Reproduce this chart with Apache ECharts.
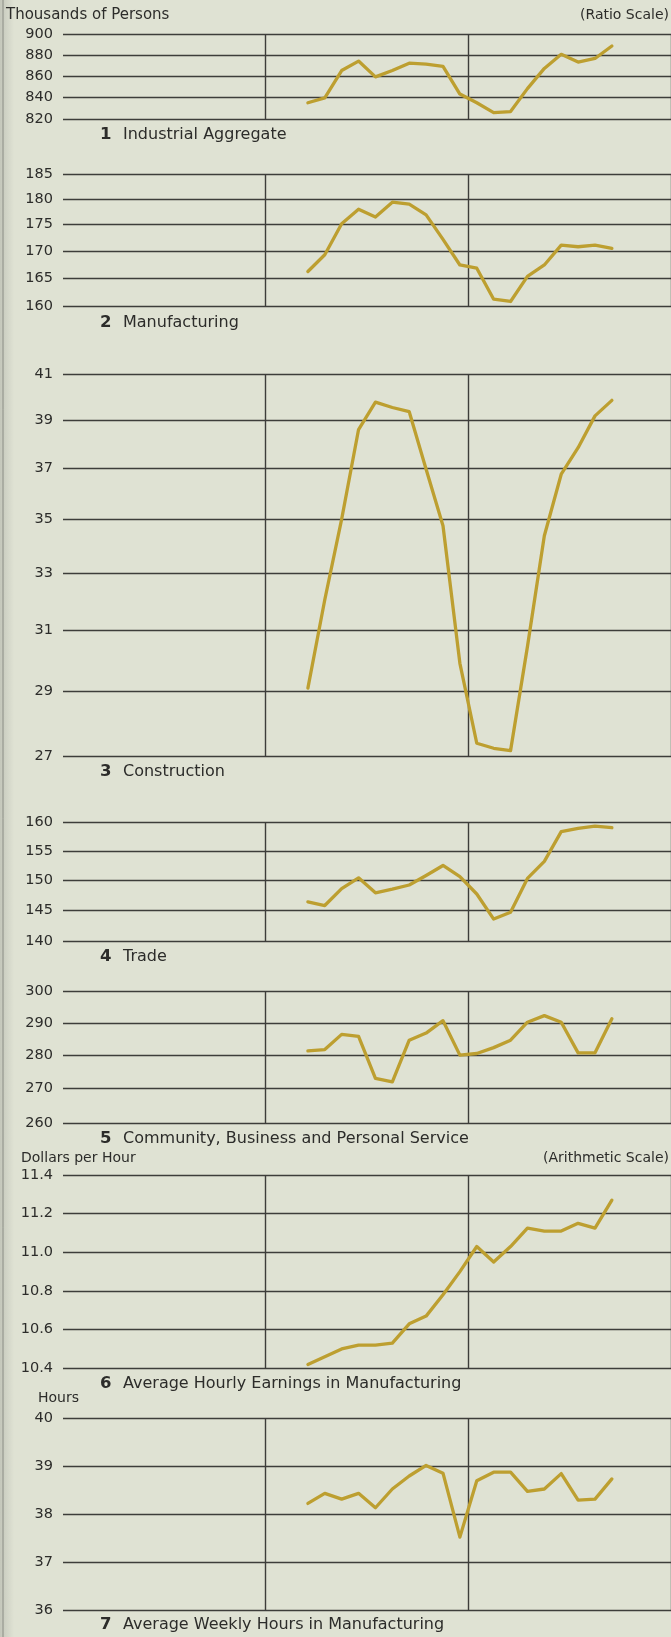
<!DOCTYPE html>
<html>
<head>
<meta charset="utf-8">
<title>Employment, Earnings and Hours</title>
<script src="https://cdn.jsdelivr.net/npm/echarts@6/dist/echarts.min.js"></script>
<style>
  html, body { margin: 0; padding: 0; background: #dfe2d3; }
  #chart { width: 671px; height: 1637px; }
</style>
</head>
<body>
<div id="chart"></div>
<script>
// --- data ---
var monthNames = ['Jan', 'Feb', 'Mar', 'Apr', 'May', 'Jun', 'Jul', 'Aug', 'Sep', 'Oct', 'Nov', 'Dec'];
var years = ['Y1', 'Y2', 'Y3'];
var firstMonth = 14; // series start: March of the second year

var captions = [
  'Industrial Aggregate',
  'Manufacturing',
  'Construction',
  'Trade',
  'Community, Business and Personal Service',
  'Average Hourly Earnings in Manufacturing',
  'Average Weekly Hours in Manufacturing'
];

var industrialAggregate = [835, 839.5, 865, 874, 859, 865, 872, 871, 869, 843, 835, 826, 827, 848, 867, 880.5, 873, 876.5, 888.5];
var manufacturing = [166.2, 169.3, 175.2, 178.0, 176.5, 179.4, 179.0, 176.9, 172.2, 167.4, 166.8, 161.2, 160.8, 165.3, 167.4, 171.1, 170.8, 171.1, 170.5];
var construction = [29.1, 32.05, 35.0, 38.6, 39.77, 39.54, 39.36, 36.96, 34.75, 29.9, 27.4, 27.25, 27.18, 30.45, 34.37, 36.76, 37.84, 39.18, 39.85];
var trade = [146.4, 145.8, 148.6, 150.4, 147.9, 148.5, 149.2, 150.8, 152.5, 150.6, 147.7, 143.6, 144.7, 150.3, 153.2, 158.4, 159.0, 159.4, 159.1];
var communityService = [281.3, 281.7, 286.4, 285.8, 273, 272, 284.6, 286.8, 290.7, 280, 280.5, 282.3, 284.6, 290.2, 292.3, 290.2, 280.7, 280.7, 291.3];
var hourlyEarnings = [10.42, 10.46, 10.50, 10.52, 10.52, 10.53, 10.63, 10.67, 10.78, 10.90, 11.03, 10.95, 11.03, 11.125, 11.11, 11.11, 11.15, 11.125, 11.27];
var weeklyHours = [38.23, 38.44, 38.32, 38.44, 38.14, 38.53, 38.8, 39.02, 38.86, 37.53, 38.7, 38.88, 38.88, 38.48, 38.53, 38.85, 38.3, 38.32, 38.74];

var ticksIndustrial = [820, 840, 860, 880, 900];
var ticksManufacturing = [160, 165, 170, 175, 180, 185];
var ticksConstruction = [27, 29, 31, 33, 35, 37, 39, 41];
var ticksTrade = [140, 145, 150, 155, 160];
var ticksService = [260, 270, 280, 290, 300];
var ticksEarnings = [10.4, 10.6, 10.8, 11.0, 11.2, 11.4];
var ticksHours = [36, 37, 38, 39, 40];

(function() {
  var bg = '#dfe2d3';
  var ink = '#2c2c2a';
  var rule = '#3d3d3a';
  var gold = '#bd9f30';
  var font = '"DejaVu Sans", sans-serif';

  var months = [];
  years.forEach(function(y) {
    monthNames.forEach(function(m) { months.push(m + ' ' + y); });
  });

  // top / bottom of each panel's plotting area and caption line (px)
  var panels = [
    { values: industrialAggregate, ticks: ticksIndustrial, log: true, top: 34.3, bottom: 119.3, cap: 135 },
    { values: manufacturing, ticks: ticksManufacturing, log: true, top: 174.3, bottom: 306, cap: 322.5 },
    { values: construction, ticks: ticksConstruction, log: true, top: 374.3, bottom: 756.7, cap: 772 },
    { values: trade, ticks: ticksTrade, log: true, top: 822.7, bottom: 941.7, cap: 957 },
    { values: communityService, ticks: ticksService, log: true, top: 991.7, bottom: 1123.3, cap: 1139 },
    { values: hourlyEarnings, ticks: ticksEarnings, log: false, decimals: 1, top: 1175, bottom: 1368.3, cap: 1383.5 },
    { values: weeklyHours, ticks: ticksHours, log: false, top: 1418.3, bottom: 1610.7, cap: 1625 }
  ];

  var grids = [], xAxes = [], yAxes = [], series = [];
  var graphics = [
    // binding shadow on the left edge of the page
    {
      type: 'rect', silent: true, z: -1,
      shape: { x: 0, y: 0, width: 14, height: 1637 },
      style: {
        fill: new echarts.graphic.LinearGradient(0, 0, 1, 0, [
          { offset: 0, color: '#c4c7bb' },
          { offset: 1, color: bg }
        ])
      }
    },
    { type: 'line', silent: true, shape: { x1: 3, y1: 0, x2: 3, y2: 1637 }, style: { stroke: '#8a8c84', lineWidth: 1 } },
    { type: 'text', silent: true, x: 6, y: 15, style: { text: 'Thousands of Persons', font: '15px ' + font, fill: ink, align: 'left', verticalAlign: 'middle' } },
    { type: 'text', silent: true, x: 669, y: 15, style: { text: '(Ratio Scale)', font: '14px ' + font, fill: ink, align: 'right', verticalAlign: 'middle' } },
    { type: 'text', silent: true, x: 21, y: 1158, style: { text: 'Dollars per Hour', font: '14px ' + font, fill: ink, align: 'left', verticalAlign: 'middle' } },
    { type: 'text', silent: true, x: 669, y: 1158, style: { text: '(Arithmetic Scale)', font: '14px ' + font, fill: ink, align: 'right', verticalAlign: 'middle' } },
    { type: 'text', silent: true, x: 38, y: 1398, style: { text: 'Hours', font: '14px ' + font, fill: ink, align: 'left', verticalAlign: 'middle' } }
  ];

  panels.forEach(function(p, k) {
    var data = months.map(function() { return null; });
    p.values.forEach(function(v, i) { data[firstMonth + i] = v; });

    grids.push({ left: 63, right: 0, top: p.top, height: p.bottom - p.top });
    xAxes.push({
      gridIndex: k,
      type: 'category',
      data: months,
      boundaryGap: true,
      axisLine: { show: false },
      axisTick: { show: false },
      axisLabel: { show: false },
      splitLine: {
        show: true,
        interval: function(idx) { return idx === 12 || idx === 24; },
        lineStyle: { color: rule, width: 1.4 }
      }
    });
    yAxes.push({
      gridIndex: k,
      type: p.log ? 'log' : 'value',
      min: p.ticks[0],
      max: p.ticks[p.ticks.length - 1],
      axisLine: { show: false },
      axisTick: { show: false, customValues: p.ticks },
      axisLabel: {
        customValues: p.ticks,
        margin: 10,
        color: ink,
        fontFamily: 'DejaVu Sans',
        fontSize: 14.5,
        formatter: function(v) { return p.decimals ? Number(v).toFixed(p.decimals) : String(Math.round(v)); }
      },
      splitLine: { show: true, lineStyle: { color: rule, width: 1.4 } }
    });
    series.push({
      type: 'line',
      xAxisIndex: k,
      yAxisIndex: k,
      data: data,
      symbol: 'none',
      connectNulls: false,
      lineStyle: { color: gold, width: 3.3, join: 'round', cap: 'round' }
    });

    graphics.push({ type: 'text', silent: true, x: 100, y: p.cap, style: { text: String(k + 1), font: 'bold 16.5px ' + font, fill: ink, align: 'left', verticalAlign: 'middle' } });
    graphics.push({ type: 'text', silent: true, x: 123, y: p.cap, style: { text: captions[k], font: '16px ' + font, fill: ink, align: 'left', verticalAlign: 'middle' } });
  });

  var chart = echarts.init(document.getElementById('chart'), null, { renderer: 'canvas' });
  chart.setOption({
    animation: false,
    backgroundColor: bg,
    grid: grids,
    xAxis: xAxes,
    yAxis: yAxes,
    series: series,
    graphic: graphics
  });
  window.addEventListener('resize', function() { chart.resize(); });
})();
</script>
</body>
</html>
